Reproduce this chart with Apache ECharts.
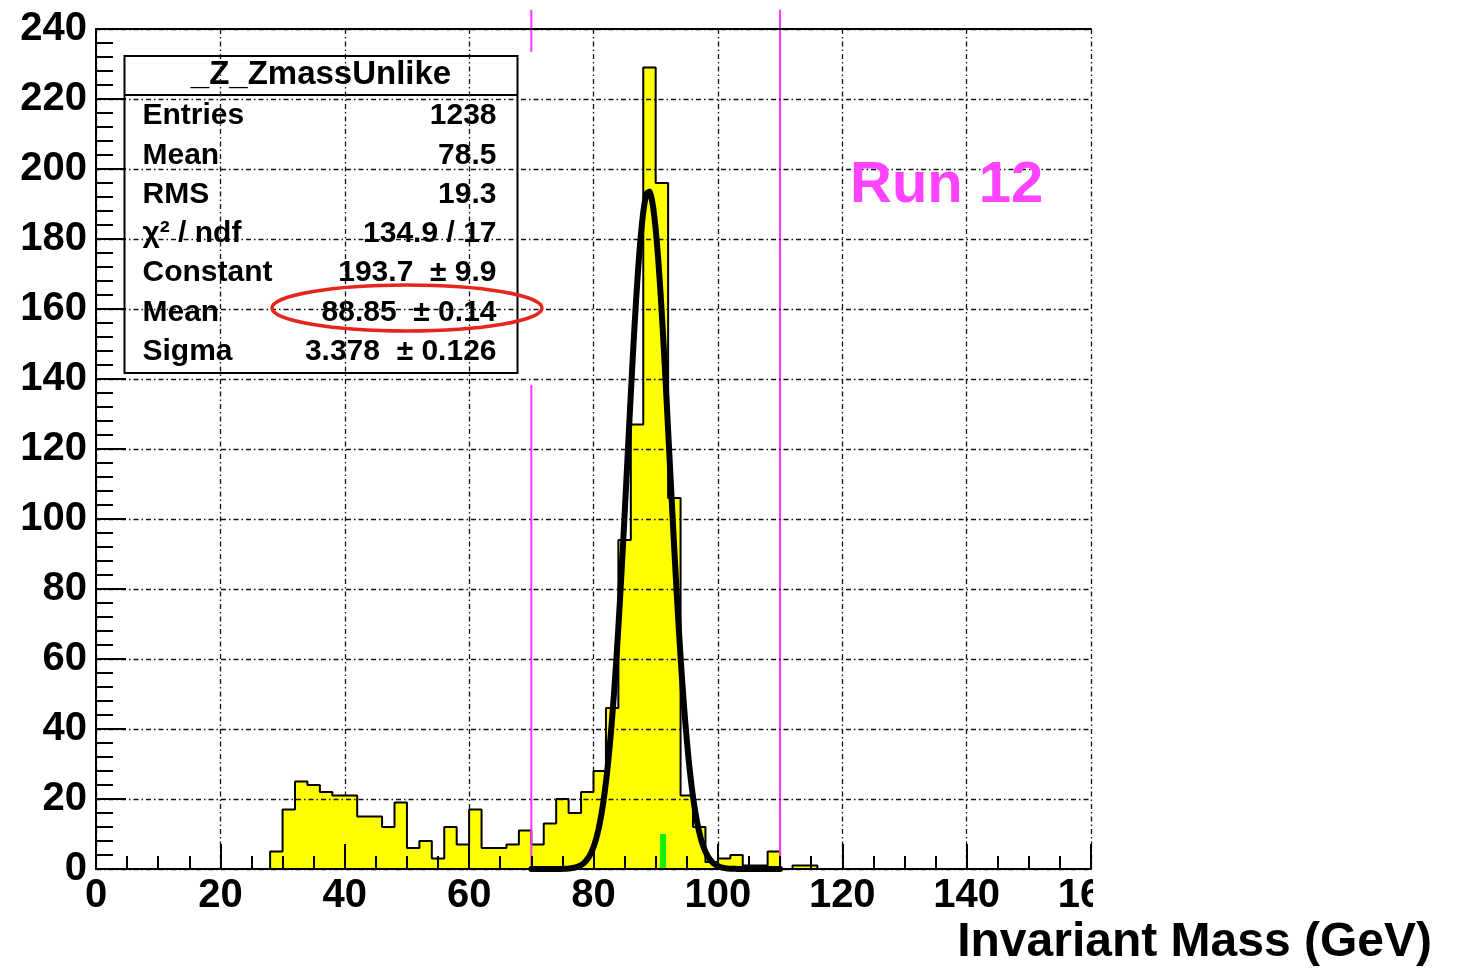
<!DOCTYPE html>
<html>
<head>
<meta charset="utf-8">
<script src="https://cdn.jsdelivr.net/npm/echarts@6/dist/echarts.min.js"></script>
<style>
  html, body { margin: 0; padding: 0; background: #fff; }
  #chart { width: 1458px; height: 969px; }
</style>
</head>
<body>
<div id="chart"></div>
<script>
// Dimuon invariant mass histogram, 2 GeV bins (low edge of each bin, GeV)
const binLowEdges = [28, 30, 32, 34, 36, 38, 40, 42, 44, 46, 48, 50, 52, 54, 56, 58, 60, 62, 64, 66,
                     68, 70, 72, 74, 76, 78, 80, 82, 84, 86, 88, 90, 92, 94, 96, 98, 100, 102, 104, 106,
                     108, 110, 112, 114];
const binCounts = [5, 17, 25, 24, 22, 21, 21, 15, 15, 12, 19, 6, 8, 3, 12, 7, 17, 6, 6, 7,
                   11, 7, 13, 20, 16, 22, 28, 46, 94, 127, 229, 196, 106, 21, 12, 2, 3, 4, 1, 1,
                   5, 0, 1, 1];
const binWidth = 2;

// Gaussian fit results (same numbers as in the statistics box)
const fitConstant = 193.7;
const fitMean = 88.85;
const fitSigma = 3.378;
const fitRange = [70, 110];

// Mass window cuts and nominal Z mass marker
const cutLow = 70;
const cutHigh = 110;
const zMassNominal = 91.19;
const zMarkerHeight = 10;

// Axis ranges
const xRange = [0, 160];
const yRange = [0, 240];

// Statistics box content
const statsTitle = '_Z_ZmassUnlike';
const statsLabels = ['Entries', 'Mean', 'RMS', 'χ² / ndf', 'Constant', 'Mean', 'Sigma'];
const statsValues = ['1238', '78.5', '19.3', '134.9 / 17', '193.7  ± 9.9', '88.85  ± 0.14', '3.378  ± 0.126'];

const runLabel = 'Run 12';
const xTitle = 'Invariant Mass (GeV)';

// ---- build series data ----
const histPoints = [[binLowEdges[0], 0]];
binLowEdges.forEach((e, i) => histPoints.push([e, binCounts[i]]));
histPoints.push([binLowEdges[binLowEdges.length - 1] + binWidth, 0]);

const fitPoints = [];
for (let m = fitRange[0]; m <= fitRange[1] + 1e-9; m += 0.2) {
  const z = (m - fitMean) / fitSigma;
  fitPoints.push([m, fitConstant * Math.exp(-0.5 * z * z)]);
}

const FONT = '"Liberation Sans", Arial, Helvetica, sans-serif';
const gridDash = [5, 3, 1.5, 3];
const magenta = '#ff33ff';
const cutTop = 245.5;   // cut lines poke slightly above the frame

const chart = echarts.init(document.getElementById('chart'), null, { renderer: 'canvas' });

const statsLeft = 122, statsTop = 55, statsW = 393, statsH = 317;
const rowY0 = 60, rowStep = 39.3;
const statsChildren = [
  { type: 'rect', shape: { x: 0, y: 0, width: statsW, height: statsH },
    style: { fill: '#fff', stroke: '#000', lineWidth: 2 } },
  { type: 'line', shape: { x1: 0, y1: 39, x2: statsW, y2: 39 },
    style: { stroke: '#000', lineWidth: 2 } },
  { type: 'text', x: statsW / 2, y: 19,
    style: { text: statsTitle, font: 'bold 33px ' + FONT, fill: '#000',
             align: 'center', verticalAlign: 'middle' } }
];
statsLabels.forEach((lab, i) => {
  statsChildren.push({ type: 'text', x: 18, y: rowY0 + i * rowStep,
    style: { text: lab, font: 'bold 30px ' + FONT, fill: '#000', align: 'left', verticalAlign: 'middle' } });
  statsChildren.push({ type: 'text', x: 372, y: rowY0 + i * rowStep,
    style: { text: statsValues[i], font: 'bold 30px ' + FONT, fill: '#000', align: 'right', verticalAlign: 'middle' } });
});

const option = {
  backgroundColor: '#fff',
  animation: false,
  grid: { left: 96, right: 367, top: 29, bottom: 100, containLabel: false },
  xAxis: [
    { // labels and grid lines, underneath the histogram
      type: 'value', min: xRange[0], max: xRange[1], interval: 20, position: 'bottom', z: 0,
      axisLine: { show: false },
      axisTick: { show: false },
      axisLabel: { fontSize: 40, fontWeight: 'bold', fontFamily: FONT, color: '#000', margin: 7 },
      splitLine: { show: true, lineStyle: { color: '#111', width: 1.3, type: gridDash } }
    },
    { // axis line and ticks drawn over the fill
      type: 'value', min: xRange[0], max: xRange[1], interval: 20, position: 'bottom', z: 10,
      axisLine: { show: true, lineStyle: { color: '#000', width: 2 } },
      axisTick: { show: true, inside: true, length: 25, lineStyle: { color: '#000', width: 2 } },
      minorTick: { show: true, splitNumber: 4, length: 13, lineStyle: { color: '#000', width: 2 } },
      axisLabel: { show: false },
      splitLine: { show: false }
    },
    { // top frame
      type: 'value', min: xRange[0], max: xRange[1], interval: 20, position: 'top', z: 10,
      axisLine: { show: true, lineStyle: { color: '#000', width: 2 } },
      axisTick: { show: false }, axisLabel: { show: false }, splitLine: { show: false }
    }
  ],
  yAxis: [
    {
      type: 'value', min: yRange[0], max: yRange[1], interval: 20, z: 10,
      axisLine: { show: true, lineStyle: { color: '#000', width: 2 } },
      axisTick: { show: true, inside: true, length: 30, lineStyle: { color: '#000', width: 2 } },
      minorTick: { show: true, splitNumber: 5, length: 17, lineStyle: { color: '#000', width: 2 } },
      axisLabel: { fontSize: 40, fontWeight: 'bold', fontFamily: FONT, color: '#000', margin: 9 },
      splitLine: { show: true, lineStyle: { color: '#111', width: 1.3, type: gridDash } }
    }
  ],
  series: [
    {
      name: 'histogram', type: 'line', step: 'end', data: histPoints,
      showSymbol: false, symbol: 'none', z: 2,
      lineStyle: { color: '#000', width: 2 },
      areaStyle: { color: '#ffff00', opacity: 1 }
    },
    {
      name: 'zNominal', type: 'line', data: [[zMassNominal, 0], [zMassNominal, zMarkerHeight]],
      symbol: 'none', z: 3, lineStyle: { color: '#11ee11', width: 6, cap: 'butt' }
    },
    {
      name: 'cutLowUpper', type: 'line', clip: false, symbol: 'none', z: 4,
      data: [[cutLow, cutTop], [cutLow, 233.5]],
      lineStyle: { color: magenta, width: 2 }
    },
    {
      name: 'cutLowLower', type: 'line', clip: false, symbol: 'none', z: 4,
      data: [[cutLow, 138.3], [cutLow, 0]],
      lineStyle: { color: magenta, width: 2 }
    },
    {
      name: 'cutHigh', type: 'line', clip: false, symbol: 'none', z: 4,
      data: [[cutHigh, cutTop], [cutHigh, 0]],
      lineStyle: { color: magenta, width: 2 }
    },
    {
      name: 'gausFit', type: 'line', data: fitPoints, symbol: 'none', z: 6,
      lineStyle: { color: '#000', width: 6, join: 'round', cap: 'round' }
    }
  ],
  graphic: [
    { type: 'group', left: statsLeft, top: statsTop, z: 50, children: statsChildren },
    { type: 'ellipse', z: 60, shape: { cx: 407, cy: 308, rx: 135, ry: 23 },
      style: { fill: 'none', stroke: '#e5261c', lineWidth: 3.5 } },
    { type: 'text', z: 60, x: 850, y: 186,
      style: { text: runLabel, font: 'bold 58px ' + FONT, fill: '#ff44ff', align: 'left', verticalAlign: 'middle' } },
    { type: 'rect', z: 70, shape: { x: 1093, y: 873, width: 365, height: 45 }, style: { fill: '#fff' } },
    { type: 'text', z: 80, x: 1432, y: 943,
      style: { text: xTitle, font: 'bold 48px ' + FONT, fill: '#000', align: 'right', verticalAlign: 'middle' } }
  ]
};

chart.setOption(option);
</script>
</body>
</html>
